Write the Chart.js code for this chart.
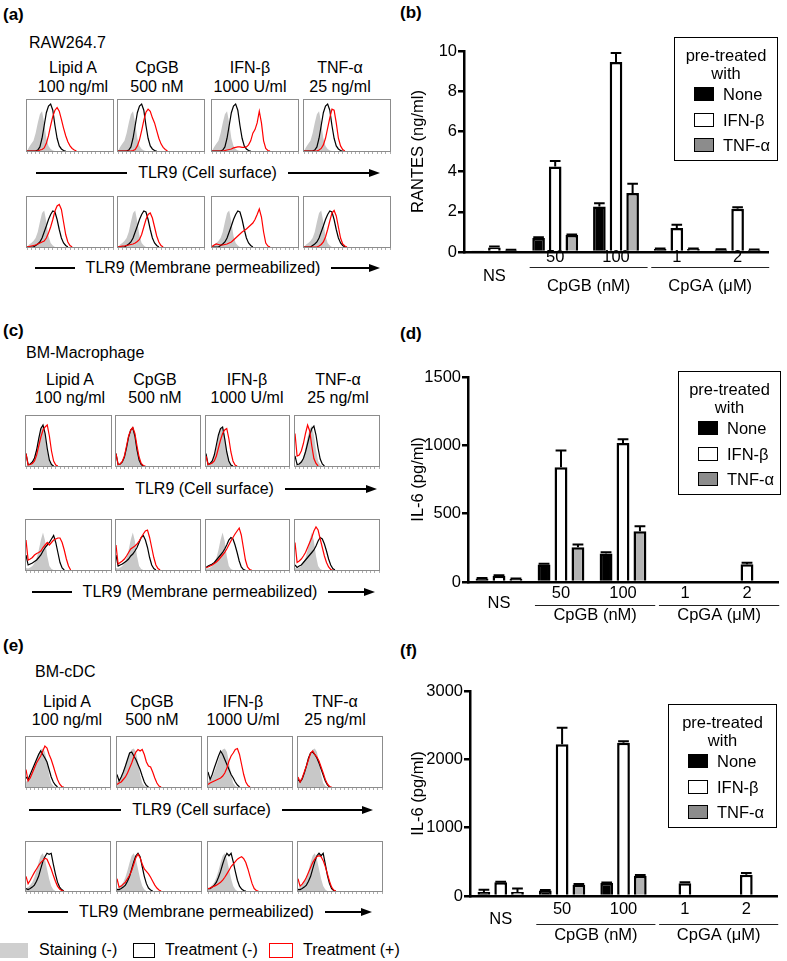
<!DOCTYPE html>
<html><head><meta charset="utf-8">
<script src="https://cdn.jsdelivr.net/npm/chart.js@4.4.1/dist/chart.umd.min.js"></script>
<style>
body{margin:0;background:#fff;font-family:"Liberation Sans",Arial,sans-serif;}
#fig{position:relative;width:787px;height:961px;overflow:hidden;background:#fff}
.t{position:absolute;white-space:nowrap;transform:translate(-50%,-50%);font-size:16px;color:#000;line-height:1}
.l{transform:translate(0,-50%)}
.big{font-size:16.5px}
.pl{font-weight:bold;font-size:17px}
canvas{position:absolute}
.ln{position:absolute;height:1.5px;background:#000}
.ah{position:absolute;width:0;height:0;border-left:11px solid #000;border-top:4.5px solid transparent;border-bottom:4.5px solid transparent}
.sq{position:absolute;box-sizing:border-box}
.lg{position:absolute;box-sizing:border-box;border:1.5px solid #000}
</style></head>
<body><div id="fig"></div>
<script>
// ---- text ----
const panelTags = ['(a)','(b)','(c)','(d)','(e)','(f)'];
const cellNames = ['RAW264.7','BM-Macrophage','BM-cDC'];
const treatNames = ['Lipid A','CpGB','IFN-β','TNF-α'];
const treatDoses = ['100 ng/ml','500 nM','1000 U/ml','25 ng/ml'];
const axisTexts = ['TLR9 (Cell surface)','TLR9 (Membrane permeabilized)'];
const histLegend = ['Staining (-)','Treatment (-)','Treatment (+)'];

// ---- flow histograms (y in % of box height, one point per 1/40 of box width) ----
const rawSurfGray = [0,8,14,20,35,55,72,78,55,25,10,4,1,0];
const rawSurfBlack = [0,0,0,0,0,2,8,25,50,75,88,92,80,50,25,10,4,1,0];
const rawSurfRed = [
  [0,0,0,0,0,0,2,3,6,15,30,50,68,80,85,78,62,45,30,18,10,5,2,0],
  [0,0,0,0,0,0,0,1,3,10,22,40,60,76,82,78,65,55,40,25,14,7,3,0],
  [0,0,0,0,0,0,1,2,3,4,6,7,8,8,7,7,8,12,20,35,42,55,78,55,20,5,1,0],
  [0,0,0,0,0,0,0,2,5,12,25,45,65,82,80,55,25,10,3,0]
];
const rawPermGray = [0,5,8,12,18,30,50,68,73,50,22,8,3,0];
const rawPermBlack = [0,0,0,0,3,6,10,18,30,42,55,65,72,70,55,35,18,8,3,0];
const rawPermRed = [
  [0,1,2,3,4,6,8,10,12,18,28,40,55,72,82,85,75,50,25,10,3,0],
  [0,1,2,2,3,4,5,6,8,11,15,25,40,55,65,68,58,40,22,10,3,0],
  [1,4,6,5,4,4,5,6,8,10,14,18,22,26,30,33,36,40,44,48,55,65,76,60,30,8,2,0],
  [0,0,0,0,0,0,0,2,5,10,20,35,52,68,73,62,40,18,6,2,0]
];
const macSurfGray = [0,3,4,8,18,36,58,74,80,62,32,10,3,0];
const macSurfBlack = [
  [25,3,4,8,16,32,55,75,82,65,35,12,3,0],
  [25,3,4,8,18,36,58,72,76,60,32,12,3,0],
  [25,3,5,10,22,42,62,75,78,55,28,10,2,0],
  [20,3,4,8,15,28,45,62,75,80,62,35,14,4,0]
];
const macSurfRed = [
  [25,2,3,5,10,22,40,58,72,78,82,60,30,10,2,0],
  [25,3,4,9,20,40,60,72,77,65,40,18,5,1,0],
  [20,3,4,6,10,20,36,52,65,72,75,55,28,10,2,0],
  [65,20,22,30,45,65,82,70,40,15,5,0]
];
const macPermGray = [4,3,5,8,14,24,40,60,75,58,28,8,2,0];
const macPermBlack = [
  [30,10,12,14,17,20,25,30,38,45,50,55,62,69,55,35,15,4,0],
  [30,8,10,12,15,18,22,28,32,38,45,55,65,69,60,45,25,10,3,0],
  [5,8,10,12,15,20,25,30,35,42,50,60,65,62,50,35,18,6,1,0],
  [10,5,8,10,15,20,25,30,35,40,48,58,65,62,52,38,22,10,3,0]
];
const macPermRed = [
  [60,20,22,25,30,33,35,38,45,50,55,50,55,60,62,64,64,55,40,22,8,0],
  [50,12,15,18,22,28,35,42,45,48,52,58,65,72,78,80,65,45,25,10,3,0],
  [5,6,8,10,13,16,20,25,30,35,42,50,58,65,72,78,84,70,45,20,6,1,0],
  [55,15,18,22,28,35,45,55,65,78,86,80,62,45,28,15,6,1,0]
];
const dcSurfGray = [10,15,20,30,42,55,68,75,77,70,50,25,8,2,0];
const dcSurfBlack = [
  [20,15,25,35,45,55,65,72,65,58,50,35,20,10,4,0],
  [25,12,20,30,42,55,68,70,62,55,45,35,22,10,3,0],
  [30,15,25,38,50,62,72,65,55,45,35,25,18,10,4,0],
  [15,10,16,28,42,58,68,70,65,58,48,36,24,12,4,0]
];
const dcSurfRed = [
  [35,12,18,28,38,48,55,62,72,82,78,65,55,42,28,15,6,1,0],
  [5,8,10,15,20,28,38,48,60,70,75,72,75,65,50,42,40,30,18,8,2,0],
  [5,8,10,12,14,16,18,22,28,38,52,62,68,75,77,65,45,25,10,3,0],
  [20,10,18,30,42,55,68,72,65,60,52,40,28,15,6,1,0]
];
const dcPermGray = [5,8,12,18,28,42,58,72,77,65,45,25,10,3,0];
const dcPermBlack = [
  [5,3,5,8,12,20,30,45,60,70,77,75,77,55,35,18,8,3,0],
  [3,3,5,8,12,20,30,45,60,72,77,70,50,30,15,6,2,0],
  [5,5,8,12,18,28,40,55,68,77,72,77,60,40,22,10,4,1,0],
  [3,3,5,8,12,20,30,45,60,72,77,72,77,55,32,15,5,1,0]
];
const dcPermRed = [
  [30,15,22,30,38,45,52,58,62,67,65,55,45,32,20,10,4,1,0],
  [25,8,10,14,18,25,32,42,55,68,75,68,55,45,40,35,28,20,12,6,2,0],
  [5,6,8,10,12,15,18,22,28,35,42,50,55,60,65,68,70,66,58,45,30,15,5,1,0],
  [25,10,14,20,28,38,48,58,65,70,72,70,62,50,35,20,8,2,0]
];

// ---- bar charts ----
const xLabels = ['NS','50','100','1','2'];
const groupNames = ['CpGB (nM)','CpGA (μM)'];
const groupSpans = [[1,2],[3,4]];
const seriesNames = ['None','IFN-β','TNF-α'];
const rantesNone = [0.02,0.70,2.26,0.15,0.12], rantesNoneErr = [0,0.04,0.17,0.03,0.02];
const rantesIfn  = [0.22,4.25,9.45,1.19,2.15], rantesIfnErr  = [0.05,0.28,0.45,0.17,0.08];
const rantesTnf  = [0.09,0.84,2.93,0.15,0.11], rantesTnfErr  = [0.02,0.03,0.46,0.03,0.02];
const macIl6None = [25,128,208,0,0],   macIl6NoneErr = [5,6,10,0,0];
const macIl6Ifn  = [45,840,1017,0,130], macIl6IfnErr = [5,122,28,0,10];
const macIl6Tnf  = [22,255,372,0,0],   macIl6TnfErr  = [4,20,36,0,0];
const dcIl6None  = [58,80,190,0,0],    dcIl6NoneErr  = [35,8,8,0,0];
const dcIl6Ifn   = [200,2220,2244,185,312], dcIl6IfnErr = [10,243,20,15,25];
const dcIl6Tnf   = [58,166,298,0,0],   dcIl6TnfErr   = [50,8,8,0,0];

const FONT = '"Liberation Sans", Arial, sans-serif';
Chart.defaults.font.family = FONT;
const fig = document.getElementById('fig');

function txt(x, y, s, cls) {
  const d = document.createElement('div');
  d.className = 't ' + (cls || '');
  d.textContent = s;
  d.style.left = x + 'px'; d.style.top = y + 'px';
  fig.appendChild(d);
}
function line(x1, y, x2) {
  const d = document.createElement('div');
  d.className = 'ln';
  d.style.left = x1 + 'px'; d.style.top = (y - 0.75) + 'px'; d.style.width = (x2 - x1) + 'px';
  fig.appendChild(d);
}
function arrowRow(y, a1, a2, label, b1, b2) {
  line(a1, y, a2);
  txt((a2 + b1) / 2, y, label);
  line(b1, y, b2 - 9);
  const h = document.createElement('div');
  h.className = 'ah';
  h.style.left = (b2 - 11) + 'px'; h.style.top = (y - 4.5) + 'px';
  fig.appendChild(h);
}
function sq(x, y, w, h, css) {
  const d = document.createElement('div');
  d.className = 'sq';
  d.style.cssText += `left:${x}px;top:${y}px;width:${w}px;height:${h}px;` + css;
  fig.appendChild(d);
}

const boxPlugin = {
  id: 'box',
  afterDraw(c) {
    const a = c.chartArea, ctx = c.ctx;
    ctx.save();
    ctx.strokeStyle = '#8c8c8c'; ctx.lineWidth = 1;
    ctx.strokeRect(a.left - 0.5, a.top - 0.5, a.width + 1, a.height + 1);
    ctx.restore();
  }
};

function histo(x0, y0, x1, y1, gray, black, red) {
  const c = document.createElement('canvas');
  c.width = x1 - x0 + 2; c.height = y1 - y0 + 4;
  c.style.left = (x0 - 1) + 'px'; c.style.top = (y0 - 1) + 'px';
  fig.appendChild(c);
  const pts = arr => arr.map((v, i) => ({x: i, y: v}));
  new Chart(c, {
    type: 'line',
    data: {datasets: [
      {data: pts(red), borderColor: '#ff0000', borderWidth: 1.2, pointRadius: 0, fill: false},
      {data: pts(black), borderColor: '#000', borderWidth: 1.2, pointRadius: 0, fill: false},
      {data: pts(gray), borderWidth: 0, borderColor: 'rgba(0,0,0,0)', backgroundColor: '#c8c8c8', pointRadius: 0, fill: 'origin'}
    ]},
    options: {
      responsive: false, animation: false, events: [],
      layout: {padding: {left: 1, right: 1, top: 1, bottom: 0}},
      plugins: {legend: {display: false}, tooltip: {enabled: false}},
      scales: {
        x: {type: 'linear', min: 0, max: 40,
            ticks: {display: false, stepSize: 2, autoSkip: false},
            grid: {drawOnChartArea: false, tickLength: 3, color: '#777', lineWidth: 0.6},
            border: {display: false}},
        y: {display: false, min: 0, max: 100}
      }
    },
    plugins: [boxPlugin]
  });
}

function histRow(y0, y1, xs, gray, blacks, reds) {
  xs.forEach((r, i) => histo(r[0], y0, r[1], y1, gray, Array.isArray(blacks[0]) ? blacks[i] : blacks, reds[i]));
}

// ---- left panels ----
txt(3, 14, panelTags[0], 'l pl');
txt(3, 330, panelTags[2], 'l pl');
txt(3, 645, panelTags[4], 'l pl');
txt(29, 43, cellNames[0], 'l');
txt(26, 353, cellNames[1], 'l');
txt(35, 672, cellNames[2], 'l');

const headRows = [[68, 87, [73,157,250,340]], [380, 398, [70,155,247,338]], [702, 720, [67,152,243,335]]];
headRows.forEach(h => h[2].forEach((cx, i) => { txt(cx, h[0], treatNames[i]); txt(cx, h[1], treatDoses[i]); }));

const colsA = [[27,113],[118,204],[212,298],[304,390]];
const colsC = [[26,111],[116,200],[206,289],[295,379]];
const colsE = [[26,110],[117,201],[208,292],[298,382]];
histRow(100, 151, colsA, rawSurfGray, rawSurfBlack, rawSurfRed);
histRow(197, 247, colsA, rawPermGray, rawPermBlack, rawPermRed);
histRow(416, 466, colsC, macSurfGray, macSurfBlack, macSurfRed);
histRow(520, 570, colsC, macPermGray, macPermBlack, macPermRed);
histRow(737, 787, colsE, dcSurfGray, dcSurfBlack, dcSurfRed);
histRow(842, 891, colsE, dcPermGray, dcPermBlack, dcPermRed);

arrowRow(173, 36, 127, axisTexts[0], 288, 380);
arrowRow(268, 35, 75, axisTexts[1], 331, 380);
arrowRow(489, 33, 124, axisTexts[0], 285, 377);
arrowRow(592, 32, 72, axisTexts[1], 328, 375);
arrowRow(810, 29, 121, axisTexts[0], 282, 373);
arrowRow(912, 28, 68, axisTexts[1], 325, 372);

// bottom legend
sq(0, 943, 28, 15, 'background:#cfcfcf;');
txt(39, 950, histLegend[0], 'l');
sq(133, 943, 22, 15, 'border:1.5px solid #000;');
txt(165, 950, histLegend[1], 'l');
sq(269, 943, 24, 15, 'border:1.5px solid #ff0000;');
txt(303, 950, histLegend[2], 'l');

// ---- bar charts ----
const barFill = ['#000000', '#ffffff', '#b3b3b3'];
const legendFill = ['#000000', '#ffffff', '#8c8c8c'];

const errPlugin = {
  id: 'errbars',
  afterDatasetsDraw(chart) {
    const ctx = chart.ctx, ys = chart.scales.y;
    chart.data.datasets.forEach((ds, di) => {
      chart.getDatasetMeta(di).data.forEach((bar, j) => {
        const e = ds.err[j];
        if (!e || !ds.data[j]) return;
        const yt = ys.getPixelForValue(ds.data[j] + e);
        const hw = bar.width * 0.42;
        ctx.save();
        ctx.strokeStyle = '#000'; ctx.lineWidth = 2;
        ctx.beginPath();
        ctx.moveTo(bar.x, bar.y); ctx.lineTo(bar.x, yt);
        ctx.moveTo(bar.x - hw, yt); ctx.lineTo(bar.x + hw, yt);
        ctx.stroke();
        ctx.restore();
      });
    });
  }
};

const groupAxis = {
  id: 'groupAxis',
  afterDraw(chart, args, o) {
    const xs = chart.scales.x, ctx = chart.ctx, base = chart.chartArea.bottom;
    const cw = xs.getPixelForValue(1) - xs.getPixelForValue(0);
    ctx.save();
    ctx.fillStyle = '#000'; ctx.strokeStyle = '#222';
    ctx.font = '16.5px ' + FONT;
    ctx.textAlign = 'center'; ctx.textBaseline = 'middle';
    xLabels.forEach((t, i) => {
      const inGroup = groupSpans.some(g => i >= g[0] && i <= g[1]);
      ctx.fillText(t, xs.getPixelForValue(i), base + (inGroup ? o.labY : o.nsY));
    });
    groupSpans.forEach((g, k) => {
      const a = xs.getPixelForValue(g[0]) - 0.42 * cw, b = xs.getPixelForValue(g[1]) + 0.52 * cw;
      ctx.lineWidth = 1;
      ctx.beginPath(); ctx.moveTo(a, base + o.lineY + 0.5); ctx.lineTo(b, base + o.lineY + 0.5); ctx.stroke();
      ctx.fillText(groupNames[k], (a + b) / 2, base + o.nameY);
    });
    ctx.restore();
  }
};

function barChart(p) {
  const c = document.createElement('canvas');
  c.width = 387; c.height = p.h;
  c.style.left = '400px'; c.style.top = p.top + 'px';
  fig.appendChild(c);
  new Chart(c, {
    type: 'bar',
    data: {labels: xLabels, datasets: seriesNames.map((n, i) => ({
      label: n, data: p.series[i], err: p.errs[i],
      backgroundColor: barFill[i], borderColor: '#000', borderWidth: 2.5,
      categoryPercentage: 0.82, barPercentage: 0.76
    }))},
    options: {
      responsive: false, animation: false, events: [],
      layout: {padding: {left: 6, right: p.padR, top: 11, bottom: 0}},
      plugins: {legend: {display: false}, tooltip: {enabled: false}, groupAxis: p.lab},
      scales: {
        x: {grid: {display: false}, ticks: {display: false},
            border: {color: '#000', width: 2.5},
            afterFit: s => { s.height = p.xh; }},
        y: {min: 0, max: p.yMax,
            ticks: {stepSize: p.yStep, color: '#000', font: {size: 16.5}, padding: 1, callback: v => String(v)},
            grid: {drawOnChartArea: false, color: '#000', lineWidth: 2.5, tickLength: 6},
            border: {color: '#000', width: 2.5},
            title: {display: true, text: p.title, color: '#000', font: {size: 16.5}, padding: {top: 3, bottom: 0}},
            afterFit: s => { s.width = p.yw; }}
      }
    },
    plugins: [errPlugin, groupAxis]
  });
  // legend
  const L = p.leg;
  const box = document.createElement('div');
  box.className = 'lg';
  box.style.cssText += `left:${L[0]}px;top:${L[1]}px;width:${L[2]}px;height:124px;`;
  fig.appendChild(box);
  txt(L[0] + L[2] / 2, L[1] + 18, 'pre-treated', 'big');
  txt(L[0] + L[2] / 2, L[1] + 36, 'with', 'big');
  seriesNames.forEach((n, i) => {
    const yy = L[1] + 57 + 25.5 * i;
    sq(L[0] + 20, yy - 7, 20, 14, `background:${legendFill[i]};border:1.5px solid #000;`);
    txt(L[0] + 49, yy, n, 'l big');
  });
}

txt(400, 12, panelTags[1], 'l pl');
txt(400, 333, panelTags[3], 'l pl');
txt(400, 650, panelTags[5], 'l pl');

barChart({top: 40, h: 262, yw: 58, xh: 50, padR: 19, yMax: 10, yStep: 2, title: 'RANTES (ng/ml)',
  series: [rantesNone, rantesIfn, rantesTnf], errs: [rantesNoneErr, rantesIfnErr, rantesTnfErr],
  lab: {labY: 5, nsY: 24, lineY: 15, nameY: 34}, leg: [674, 37, 104]});
barChart({top: 366, h: 262, yw: 62, xh: 46, padR: 9, yMax: 1500, yStep: 500, title: 'IL-6 (pg/ml)',
  series: [macIl6None, macIl6Ifn, macIl6Tnf], errs: [macIl6NoneErr, macIl6IfnErr, macIl6TnfErr],
  lab: {labY: 11, nsY: 21, lineY: 23, nameY: 33}, leg: [678, 371, 103]});
barChart({top: 680, h: 272, yw: 64, xh: 56, padR: 10, yMax: 3000, yStep: 1000, title: 'IL-6 (pg/ml)',
  series: [dcIl6None, dcIl6Ifn, dcIl6Tnf], errs: [dcIl6NoneErr, dcIl6IfnErr, dcIl6TnfErr],
  lab: {labY: 13, nsY: 23, lineY: 28, nameY: 39}, leg: [668, 704, 109]});
</script>
</body></html>
